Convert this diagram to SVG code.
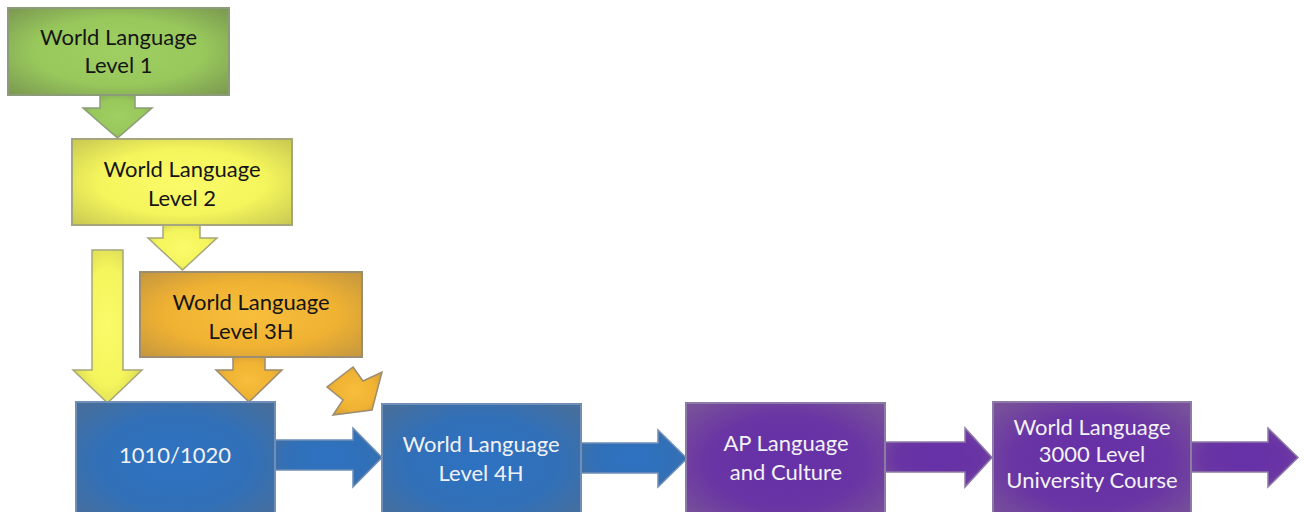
<svg xmlns="http://www.w3.org/2000/svg" width="1304" height="512" viewBox="0 0 1304 512">
<defs>
<radialGradient id="gGreen" cx="0.5" cy="0.5" r="0.7"><stop offset="0" stop-color="#9fcf62"/><stop offset="0.55" stop-color="#98c85c"/><stop offset="1" stop-color="#7a9850"/></radialGradient>
<radialGradient id="gYellow" cx="0.5" cy="0.5" r="0.7"><stop offset="0" stop-color="#fbfb6a"/><stop offset="0.55" stop-color="#f4f45c"/><stop offset="1" stop-color="#c8c852"/></radialGradient>
<radialGradient id="gOrange" cx="0.5" cy="0.5" r="0.7"><stop offset="0" stop-color="#f7be3c"/><stop offset="0.55" stop-color="#f0b232"/><stop offset="1" stop-color="#c4963e"/></radialGradient>
<radialGradient id="gBlue" cx="0.5" cy="0.5" r="0.7"><stop offset="0" stop-color="#2e72c2"/><stop offset="0.55" stop-color="#3170b8"/><stop offset="1" stop-color="#4a6e98"/></radialGradient>
<radialGradient id="gPurple" cx="0.5" cy="0.5" r="0.7"><stop offset="0" stop-color="#6630a8"/><stop offset="0.55" stop-color="#6934a4"/><stop offset="1" stop-color="#7a5598"/></radialGradient>
</defs>
<style>
.box{stroke-width:2}
.green{fill:url(#gGreen);stroke:#8c9c78}
.yellow{fill:url(#gYellow);stroke:#a6a67c}
.orange{fill:url(#gOrange);stroke:#9c8c70}
.blue{fill:url(#gBlue);stroke:#6f8fb8}
.purple{fill:url(#gPurple);stroke:#8e7aa8}
.arr{stroke-width:1.5;stroke-linejoin:miter}
.lbl{font-family:Lato,"Open Sans","Liberation Sans",sans-serif;font-size:22px;text-anchor:middle}
.dark{fill:#151515}
.light{fill:#f2f2f6}
</style>
<g id="connectors">
<polygon class="arr green" points="100,95 135,95 135,108 152,108 117.5,138 83,108 100,108"/>
<polygon class="arr yellow" points="163,225 200,225 200,238 217,238 182.5,270 148,238 163,238"/>
<polygon class="arr yellow" points="92,250 123,250 123,370 142,370 107.5,403 73,370 92,370"/>
<polygon class="arr orange" points="233,357 265,357 265,370 282,370 249,402 216,370 233,370"/>
<polygon class="arr orange" points="353,367 363,381 382,372 372,410 333,415 343,400 327,387"/>
<polygon class="arr blue" points="275,440 353,440 353,428 382,457.5 353,487 353,470 275,470"/>
<polygon class="arr blue" points="581,443 658,443 658,430 687,458.5 658,487 658,473 581,473"/>
<polygon class="arr purple" points="885,442 965,442 965,428 992,457.5 965,487 965,472 885,472"/>
<polygon class="arr purple" points="1191,442 1268,442 1268,428 1298,457.5 1268,487 1268,472 1191,472"/>
</g>
<g id="level1">
<rect class="box green" x="8" y="8" width="221" height="87"/>
<text class="lbl dark" x="118.5" y="45">World Language</text>
<text class="lbl dark" x="118.5" y="73">Level 1</text>
</g>
<g id="level2">
<rect class="box yellow" x="72" y="139" width="220" height="86"/>
<text class="lbl dark" x="182" y="177">World Language</text>
<text class="lbl dark" x="182" y="206">Level 2</text>
</g>
<g id="level3h">
<rect class="box orange" x="140" y="272" width="222" height="85"/>
<text class="lbl dark" x="251" y="310">World Language</text>
<text class="lbl dark" x="251" y="339">Level 3H</text>
</g>
<g id="n1010">
<rect class="box blue" x="76" y="402" width="199" height="120"/>
<text class="lbl light" x="175" y="463">1010/1020</text>
</g>
<g id="level4h">
<rect class="box blue" x="382" y="404" width="199" height="118"/>
<text class="lbl light" x="481" y="452">World Language</text>
<text class="lbl light" x="481" y="481">Level 4H</text>
</g>
<g id="ap">
<rect class="box purple" x="686" y="403" width="199" height="119"/>
<text class="lbl light" x="786" y="451">AP Language</text>
<text class="lbl light" x="786" y="480">and Culture</text>
</g>
<g id="univ">
<rect class="box purple" x="993" y="402" width="198" height="120"/>
<text class="lbl light" x="1092" y="435">World Language</text>
<text class="lbl light" x="1092" y="462">3000 Level</text>
<text class="lbl light" x="1092" y="488">University Course</text>
</g>
</svg>
